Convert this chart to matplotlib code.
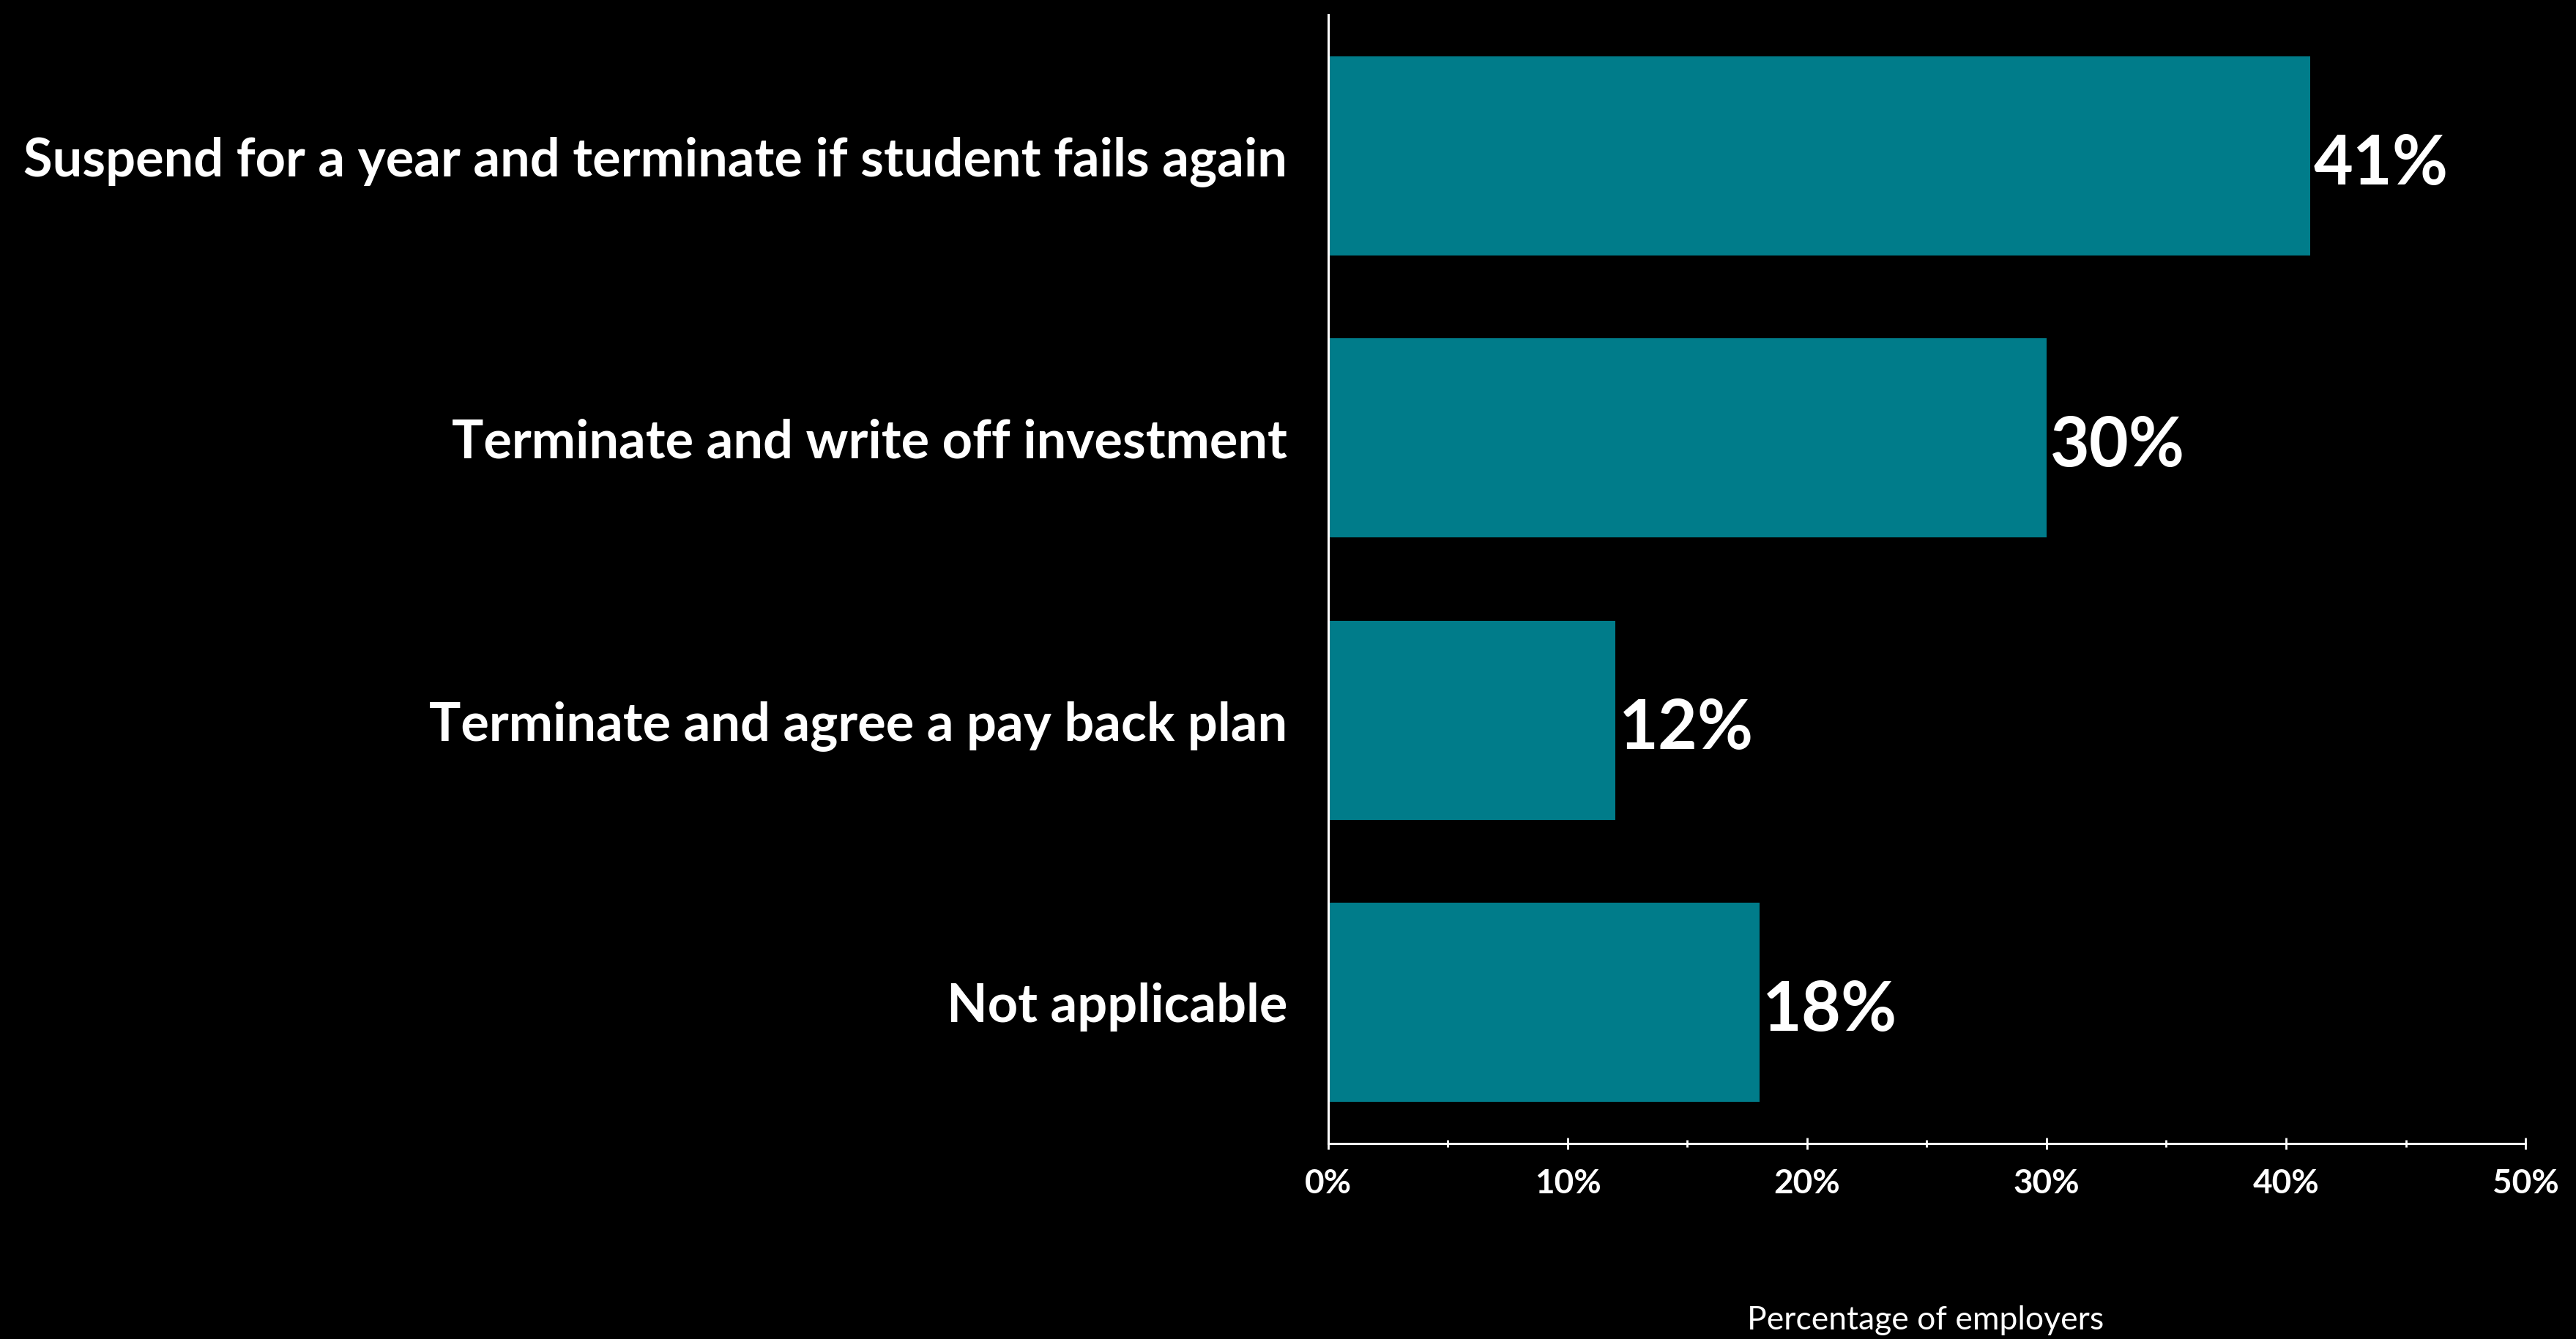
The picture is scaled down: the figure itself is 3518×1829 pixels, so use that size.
import matplotlib
matplotlib.use("Agg")
import matplotlib.pyplot as plt
from matplotlib.ticker import MultipleLocator, FuncFormatter

categories = [
    "Suspend for a year and terminate if student fails again",
    "Terminate and write off investment",
    "Terminate and agree a pay back plan",
    "Not applicable",
]
values = [41, 30, 12, 18]
xlabel = "Percentage of employers"

BAR = "#007C8A"
FONT = ["Lato", "DejaVu Sans"]

fig = plt.figure(figsize=(35.18, 18.29), dpi=100, facecolor="black")
ax = fig.add_axes([0.5156, 0.1460, 0.4648, 0.8431], facecolor="black")

ypos = list(range(len(categories)))
ax.barh(ypos, values, height=0.705, color=BAR, edgecolor="none")

ax.set_xlim(0, 50)
ax.set_ylim(len(categories) - 0.5, -0.5)

for s in ["top", "right"]:
    ax.spines[s].set_visible(False)
for s in ["left", "bottom"]:
    ax.spines[s].set_color("white")
    ax.spines[s].set_linewidth(2.2)

ax.xaxis.set_major_locator(MultipleLocator(10))
ax.xaxis.set_minor_locator(MultipleLocator(5))
ax.xaxis.set_major_formatter(FuncFormatter(lambda v, p: f"{v:.0f}%"))
ax.tick_params(axis="x", which="major", direction="inout", length=11.5, width=2.0,
               color="white", labelcolor="white", labelsize=33, pad=19)
ax.tick_params(axis="x", which="minor", direction="inout", length=7.2, width=2.0,
               color="white")
for lab in ax.get_xticklabels():
    lab.set_family(FONT)
    lab.set_weight("bold")

ax.set_yticks(ypos)
ax.set_yticklabels(categories)
ax.tick_params(axis="y", length=0, pad=40, labelcolor="white", labelsize=52)
for lab in ax.get_yticklabels():
    lab.set_family(FONT)
    lab.set_weight("bold")

for y, v in zip(ypos, values):
    ax.text(v + 0.15, y + 0.01, f"{v}%", color="white", fontsize=67, fontweight="bold",
            family=FONT, va="center_baseline", ha="left")

fig.text(0.7476, 0.003, xlabel, color="white", fontsize=32, family=FONT,
         ha="center", va="bottom")

fig.savefig("out.png", dpi=100, facecolor="black")
